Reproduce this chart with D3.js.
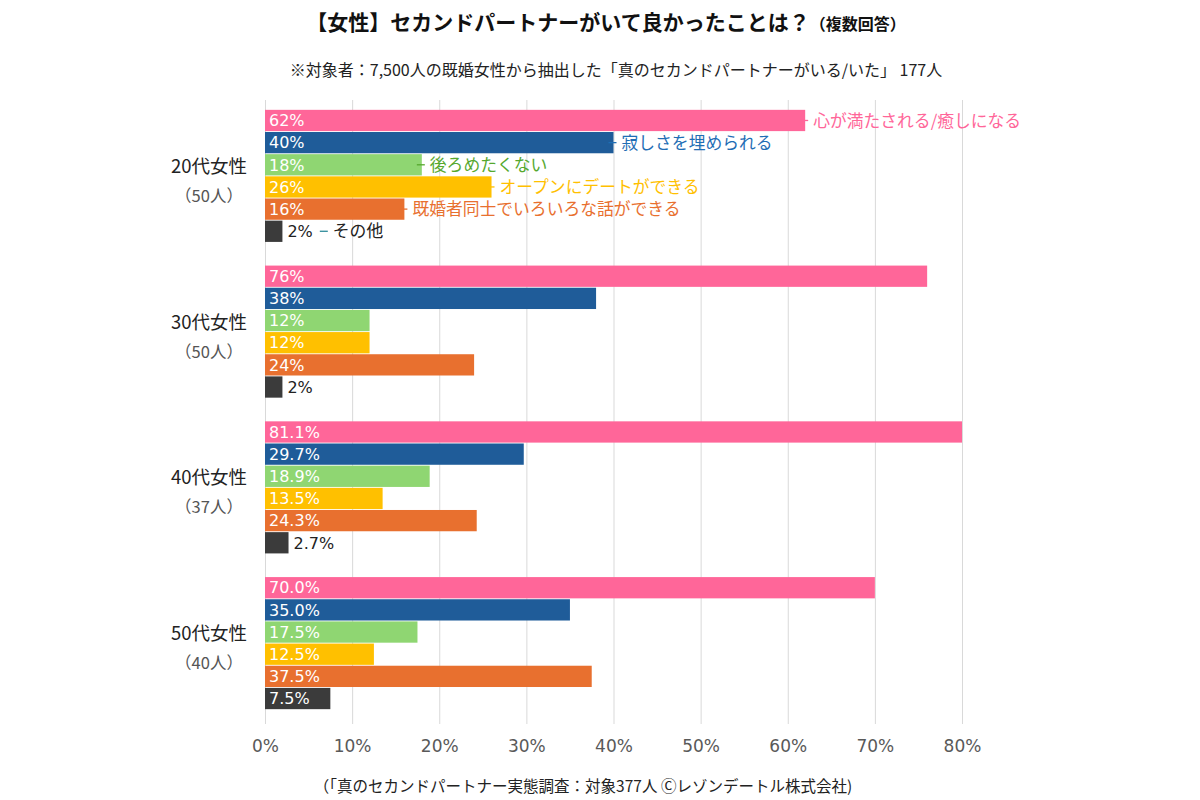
<!DOCTYPE html>
<html><head><meta charset="utf-8">
<script src="https://cdn.jsdelivr.net/npm/d3@7/dist/d3.min.js"></script>
<style>
body{margin:0;background:#fff;}
text{font-family:"Noto Sans CJK JP","Noto Sans",sans-serif;}
text.num{font-family:"DejaVu Sans",Verdana,sans-serif;}
</style></head>
<body><svg id="c" width="1200" height="800"></svg>
<script>
const groups = ["20代女性","30代女性","40代女性","50代女性"];
const groupCounts = ["（50人）","（50人）","（37人）","（40人）"];
const groupDecimals = [0,0,1,1];
const series = ["心が満たされる/癒しになる","寂しさを埋められる","後ろめたくない","オープンにデートができる","既婚者同士でいろいろな話ができる","その他"];
const s1 = [62, 76, 81.1, 70.0];
const s2 = [40, 38, 29.7, 35.0];
const s3 = [18, 12, 18.9, 17.5];
const s4 = [26, 12, 13.5, 12.5];
const s5 = [16, 24, 24.3, 37.5];
const s6 = [2, 2, 2.7, 7.5];
const seriesValues = [s1,s2,s3,s4,s5,s6];
const xTicks = [0,10,20,30,40,50,60,70,80];
const barColors = ["#FF6699","#1F5C99","#8FD672","#FFC000","#E8702F","#3B3B3B"];
const labelColors = ["#FF6699","#1F6EB5","#56A82E","#FFC000","#E8702F","#222222"];

const svg = d3.select("#c");
const x = d3.scaleLinear().domain([0,80]).range([265,962]).clamp(true);
const y = d3.scaleBand().domain(groups).range([98,721]).paddingInner(0.152).paddingOuter(0.076);
const yi = d3.scaleBand().domain(d3.range(series.length)).range([0,y.bandwidth()]).paddingInner(0.04);

// title
const t = svg.append("text").attr("x",606).attr("y",30).attr("text-anchor","middle").attr("font-weight","bold").attr("fill","#111");
t.append("tspan").attr("font-size",21).text("【女性】セカンドパートナーがいて良かったことは？");
t.append("tspan").attr("font-size",16).text("（複数回答）");
svg.append("text").attr("x",616).attr("y",76).attr("text-anchor","middle").attr("font-size",16).attr("fill","#222")
  .text("※対象者：7,500人の既婚女性から抽出した「真のセカンドパートナーがいる/いた」 177人");

// grid
const axis = d3.axisBottom(x).tickValues(xTicks).tickFormat(d=>d+"%").tickSize(-(724-100)).tickPadding(14);
const ga = svg.append("g").attr("transform","translate(0,724)").call(axis);
ga.select(".domain").remove();
ga.selectAll(".tick line").attr("stroke","#D9D9D9").attr("stroke-width",1);
ga.selectAll(".tick text").attr("class","num").attr("font-size",17).attr("fill","#595959").attr("dy","0.85em");

// group labels
groups.forEach((g,gi)=>{
  const cy = y(g)+y.bandwidth()/2;
  svg.append("text").attr("x",209).attr("y",cy-3).attr("text-anchor","middle").attr("font-size",18.5).attr("fill","#222").text(g);
  svg.append("text").attr("x",209).attr("y",cy+26).attr("text-anchor","middle").attr("font-size",16.5).attr("fill","#555").text(groupCounts[gi]);
});

// bars
groups.forEach((g,gi)=>{
  series.forEach((s,si)=>{
    const v = seriesValues[si][gi];
    const y0 = y(g)+yi(si), h = yi.bandwidth();
    const x0 = x(0), x1 = x(v);
    svg.append("rect").attr("x",x0).attr("y",y0).attr("width",x1-x0).attr("height",h).attr("fill",barColors[si]);
    const lbl = v.toFixed(groupDecimals[gi])+"%";
    const inside = (x1-x0) > 45;
    const tl = svg.append("text").attr("class","num").attr("x", inside ? x0+4 : x1+5).attr("y",y0+h/2).attr("dy","0.36em")
      .attr("font-size",16).attr("fill", inside ? "#fff" : "#222").text(lbl);
    if(gi===0){
      let ax = x1;
      if(!inside){ ax = x1+5+tl.node().getComputedTextLength()+2; }
      svg.append("line").attr("x1",ax+ (inside? -5:5)).attr("x2",ax+(inside?3:13)).attr("y1",y0+h/2).attr("y2",y0+h/2)
        .attr("stroke",barColors[si]==="#3B3B3B"?"#2E8B9A":labelColors[si]).attr("stroke-width",1.3);
      svg.append("text").attr("x",ax+(inside?8:18)).attr("y",y0+h/2).attr("dy","0.36em").attr("font-size",16.8)
        .attr("fill",labelColors[si]).text(s);
    }
  });
});

svg.append("text").attr("x",583).attr("y",792).attr("text-anchor","middle").attr("font-size",15.5).attr("fill","#222")
  .text("（「真のセカンドパートナー実態調査：対象377人 Ⓒレゾンデートル株式会社)");
</script></body></html>
